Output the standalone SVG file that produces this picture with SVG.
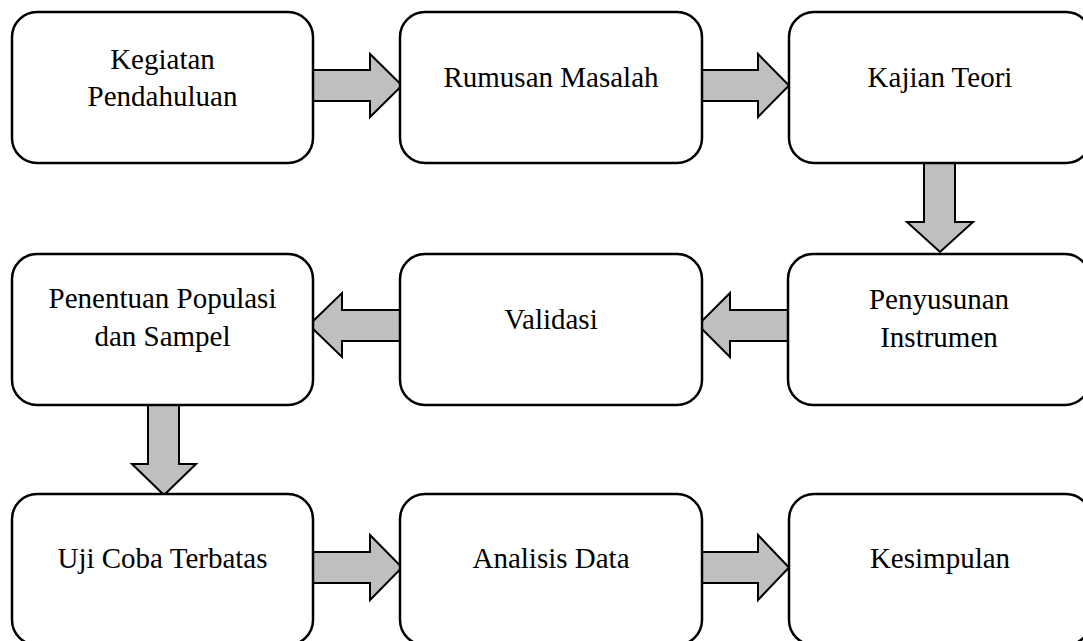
<svg xmlns="http://www.w3.org/2000/svg" width="1083" height="641" viewBox="0 0 1083 641">
<style>
.box{fill:#ffffff;stroke:#000000;stroke-width:2.5}
.arr{fill:#bfbfbf;stroke:#000000;stroke-width:2;stroke-linejoin:miter}
.t{font-family:"Liberation Serif","Times New Roman",serif;font-size:29px;fill:#000000;text-anchor:middle}
</style>
<rect width="1083" height="641" fill="#ffffff"/>
<g id="connectors">
<path class="arr" d="M313,70 H370 V54 L402,85.5 L370,117 V101 H313 Z"/>
<path class="arr" d="M702,70 H758 V54 L789,85.5 L758,117 V101 H702 Z"/>
<path class="arr" d="M924,163 V222 H907 L940,252 L973,222 H955 V163 Z"/>
<path class="arr" d="M788,310 H730 V293 L698,325 L730,357 V341 H788 Z"/>
<path class="arr" d="M400,310 H342 V293 L309,325 L342,357 V341 H400 Z"/>
<path class="arr" d="M148,405 V464 H132 L164,495 L196,464 H179 V405 Z"/>
<path class="arr" d="M313,552 H370 V535 L402,567.5 L370,600 V583 H313 Z"/>
<path class="arr" d="M702,552 H758 V535 L789,567.5 L758,600 V583 H702 Z"/>
</g>
<g id="n1"><rect class="box" x="12" y="12" width="301" height="151" rx="25"/><text class="t" x="162.5" y="69">Kegiatan</text><text class="t" x="162.5" y="106">Pendahuluan</text></g>
<g id="n2"><rect class="box" x="400" y="12" width="302" height="151" rx="25"/><text class="t" x="551" y="87">Rumusan Masalah</text></g>
<g id="n3"><rect class="box" x="789" y="12" width="302" height="151" rx="25"/><text class="t" x="940" y="87">Kajian Teori</text></g>
<g id="n4"><rect class="box" x="788" y="254" width="302" height="151" rx="25"/><text class="t" x="939" y="309">Penyusunan</text><text class="t" x="939" y="347">Instrumen</text></g>
<g id="n5"><rect class="box" x="400" y="254" width="302" height="151" rx="25"/><text class="t" x="551" y="329">Validasi</text></g>
<g id="n6"><rect class="box" x="12" y="254" width="301" height="151" rx="25"/><text class="t" x="162.5" y="308">Penentuan Populasi</text><text class="t" x="162.5" y="346">dan Sampel</text></g>
<g id="n7"><rect class="box" x="12" y="494" width="301" height="151" rx="25"/><text class="t" x="162.5" y="568">Uji Coba Terbatas</text></g>
<g id="n8"><rect class="box" x="400" y="494" width="302" height="151" rx="25"/><text class="t" x="551" y="568">Analisis Data</text></g>
<g id="n9"><rect class="box" x="789" y="494" width="302" height="151" rx="25"/><text class="t" x="940" y="568">Kesimpulan</text></g>
</svg>
